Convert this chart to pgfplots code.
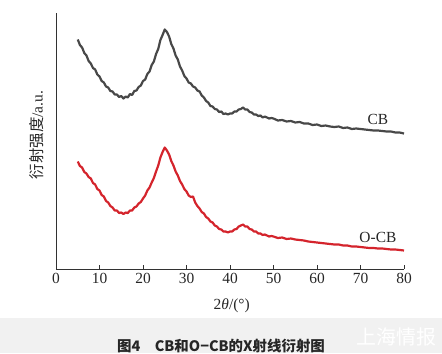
\documentclass[border=0pt]{standalone}
\usepackage{pgfplots}
\pgfplotsset{compat=1.18}
\usepackage{fontspec}
\setmainfont{Liberation Serif}
\newfontfamily\cjk{Noto Sans CJK SC}
\definecolor{cbgray}{RGB}{72,72,72}
\definecolor{ocbred}{RGB}{212,36,44}
\definecolor{axgray}{RGB}{50,50,50}
\definecolor{band}{RGB}{241,241,241}
\begin{document}
\begin{tikzpicture}[x=1bp,y=1bp]
\path[use as bounding box] (0,0) rectangle (442,353);
\fill[band] (0,0) rectangle (442,35);
\node[font=\cjk\bfseries\fontsize{14.5}{16}\selectfont, text=black!85] at (221,7) {图4\quad CB和O−CB的X射线衍射图};
\begin{scope}
\clip (0,0) rectangle (442,35);
\node[anchor=west, font=\cjk\fontsize{20}{22}\selectfont, text=white] at (353,16) {上海情报};
\end{scope}
\begin{axis}[
  at={(56bp,84bp)}, anchor=south west,
  width=348bp, height=256bp, scale only axis,
  xmin=0, xmax=80, ymin=0, ymax=256,
  axis x line=bottom, axis y line=left,
  axis line style={axgray, line width=0.9pt, -},
  xtick={0,10,...,80}, ytick=\empty,
  tick style={axgray, line width=0.8pt},
  tick align=inside, major tick length=4.5bp,
  /pgf/number format/assume math mode=true,
  ticklabel style={font=\fontsize{15.5}{17}\selectfont, text=black!85},
  xticklabel style={yshift=-1bp},
  xlabel={2\textit{θ}/(°)},
  xlabel style={font=\fontsize{15.5}{17}\selectfont, text=black!85, at={(axis description cs:0.505,0)}, anchor=center, yshift=-37bp},
  ylabel={{\cjk 衍射强度}/a.u.},
  ylabel style={font=\fontsize{15.5}{17}\selectfont, text=black!85, at={(axis description cs:-0.055,0.523)}, anchor=center},
  clip=false,
]
\addplot[cbgray, line width=2.2pt, line join=round] coordinates {
(5,229.5)(5.5,224)(6,221.5)(6.5,216)(7,213.5)(7.5,208)(8,205.5)(8.5,201)(9,199.5)(9.5,194.5)
(10,192.5)(10.5,188)(11,186.5)(11.5,182.5)(12,181.5)(12.5,178)(13,177.5)(13.5,174.5)(14,174.5)(14.5,172)
(15,173)(15.5,170.5)(16,172.5)(16.5,171.5)(17,175)(17.5,174)(18,178)(18.5,178.5)(19,182)(19.5,183.5)
(20,188)(20.5,189.5)(21,195)(21.5,197.5)(22,204)(22.5,207.5)(23,215)(23.5,220)(24,229)(24.5,234)
(25,239.5)(25.5,237)(26,232.5)(26.5,225)(27,220.5)(27.5,213.5)(28,209.5)(28.5,202.5)(29,198.5)(29.5,193)
(30,190.5)(30.5,186.5)(31,185.5)(31.5,182.5)(32,181.5)(32.5,178.5)(33,177.5)(33.5,173.5)(34,171.5)(34.5,168)
(35,166.5)(35.5,163)(36,162.5)(36.5,160)(37,159.5)(37.5,157)(38,157.5)(38.5,155)(39,155.5)(39.5,154.5)
(40,155.5)(40.5,155.5)(41,157.5)(41.5,157.5)(42,159.5)(42.5,160)(43,161.5)(43.5,159.5)(44,159.5)(44.5,157)
(45,156.5)(45.5,154.5)(46,154.5)(46.5,153)(47,153.5)(47.5,151.5)(48,152.5)(49,150.5)(49.5,151)(50,150.5)
(51,148.5)(52,149)(53,147.5)(54,148)(55,146.5)(56,147)(57,145.5)(58,145.5)(59,144)(60,144.5)
(61,143)(62,143.5)(63,142.5)(64,142)(65,142.5)(66,141)(67,141.5)(68,140)(69,140.5)(70,140)
(71,139.5)(72,139)(73,138.5)(74,138.5)(75,138)(76,137.5)(77,137.5)(78,136.5)(79,136.5)(80,135.5)
};
\addplot[ocbred, line width=2.2pt, line join=round] coordinates {
(5,107.5)(5.5,103)(6,101.5)(6.5,97)(7,95.5)(7.5,92)(8,90.5)(8.5,86)(9,84.5)(9.5,80)
(10,78.5)(10.5,74)(11,72.5)(11.5,68)(12,66.5)(12.5,63)(13,61.5)(13.5,58.5)(14,58.5)(14.5,56)
(15,56.5)(15.5,55)(16,56.5)(16.5,56)(17,58.5)(17.5,58.5)(18,61.5)(18.5,62.5)(19,65.5)(19.5,67)
(20,70.5)(20.5,73.5)(21,78.5)(21.5,81.5)(22,86.5)(22.5,91)(23,97.5)(23.5,103.5)(24,111.5)(24.5,117)
(25,121.5)(25.5,118.5)(26,114.5)(26.5,108)(27,103.5)(27.5,97.5)(28,93.5)(28.5,88)(29,84.5)(29.5,80)
(30,77.5)(30.5,73.5)(31,72)(31.5,72.5)(32,66.5)(32.5,63)(33,60.5)(33.5,57)(34,55.5)(34.5,52)
(35,50.5)(35.5,47.5)(36,46.5)(36.5,43.5)(37,42.5)(37.5,40)(38,39.5)(38.5,37.5)(39,37.5)(39.5,36.5)
(40,37.5)(40.5,37.5)(41,39.5)(41.5,40)(42,42.5)(42.5,43.5)(43,44.5)(43.5,42.5)(44,42.5)(44.5,40)
(45,39.5)(45.5,37.5)(46,37.5)(46.5,35.5)(47,35.5)(47.5,34)(48,34.5)(49,32.5)(49.5,33)(50,32.5)
(51,31)(52,31.5)(53,30)(54,30.5)(55,29.5)(56,29)(57,28.5)(58,27.5)(59,27)(60,26.5)
(61,26)(62,25.5)(63,25)(64,24.5)(65,24.5)(66,23.5)(67,23.5)(68,22.5)(69,22.5)(70,22)
(71,21.5)(72,21)(73,21)(74,20.5)(75,20.5)(76,20)(77,19.5)(78,19.5)(79,19)(80,18.5)
};
\node[font=\fontsize{15.5}{17}\selectfont, text=black!85] at (axis cs:74,150) {CB};
\node[font=\fontsize{15.5}{17}\selectfont, text=black!85] at (axis cs:74,32) {O-CB};
\end{axis}
\end{tikzpicture}
\end{document}
